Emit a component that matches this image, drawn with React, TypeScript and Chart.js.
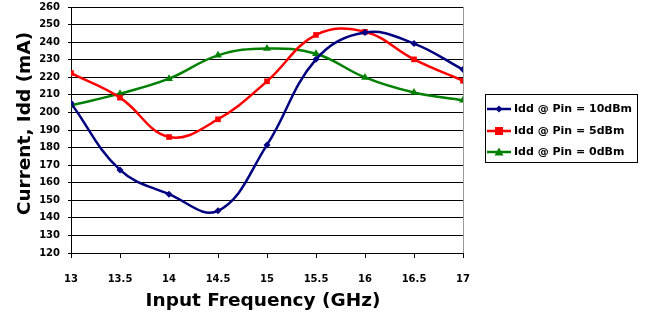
import React, { useEffect, useRef } from "react";
import { Chart, registerables } from "chart.js";

Chart.register(...registerables);

const frequencies = [13, 13.5, 14, 14.5, 15, 15.5, 16, 16.5, 17];
const idd10dBm = [205.3, 167.3, 153.5, 144, 181.5, 230.2, 245.5, 239.2, 224.4];
const idd5dBm = [222.4, 208.4, 186, 196.1, 217.7, 244.1, 245.9, 230.2, 218];
const idd0dBm = [204, 210.7, 219.2, 232.5, 236.4, 233.4, 219.9, 211.3, 206.9];
const seriesLabels = ["Idd @ Pin = 10dBm", "Idd @ Pin = 5dBm", "Idd @ Pin = 0dBm"];
const seriesColors = ["#000080", "#FF0000", "#008000"];
const seriesMarkers = ["rectRot", "rect", "triangle"];
const markerSizes = [3.5, 4, 4.5];
const xTitle = "Input Frequency (GHz)";
const yTitle = "Current, Idd (mA)";

const FONT = "'DejaVu Sans', Verdana, sans-serif";

const frame = {
  id: "frame",
  afterDatasetsDraw(chart: any) {
    const { ctx, chartArea } = chart;
    ctx.save();
    ctx.strokeStyle = "#9a9a9a";
    ctx.lineWidth = 1;
    ctx.beginPath();
    const x = Math.round(chartArea.right) + 0.5;
    ctx.moveTo(x, chartArea.top);
    ctx.lineTo(x, chartArea.bottom);
    ctx.stroke();
    ctx.restore();
  },
  afterDraw(chart: any) {
    const { ctx, chartArea } = chart;
    ctx.save();
    ctx.fillStyle = "#000";
    ctx.font = `bold 18.5px ${FONT}`;
    ctx.textAlign = "center";
    ctx.textBaseline = "alphabetic";
    ctx.fillText(xTitle, (chartArea.left + chartArea.right) / 2 - 4, 306);
    ctx.save();
    ctx.translate(30, 123.5);
    ctx.rotate(-Math.PI / 2);
    ctx.fillText(yTitle, 0, 0);
    ctx.restore();

    const bx = 485.5, by = 94.5, bw = 152, bh = 68;
    ctx.fillStyle = "#fff";
    ctx.fillRect(bx, by, bw, bh);
    ctx.strokeStyle = "#000";
    ctx.lineWidth = 1;
    ctx.strokeRect(bx, by, bw, bh);
    const rows = [109, 131, 152];
    chart.data.datasets.forEach((ds: any, i: number) => {
      const y = rows[i];
      ctx.strokeStyle = ds.borderColor;
      ctx.lineWidth = 2.5;
      ctx.beginPath();
      ctx.moveTo(487, y);
      ctx.lineTo(511, y);
      ctx.stroke();
      ctx.fillStyle = ds.backgroundColor;
      const cx = 499;
      const r = ds.pointRadius;
      ctx.beginPath();
      if (ds.pointStyle === "rectRot") {
        ctx.moveTo(cx, y - r); ctx.lineTo(cx + r, y); ctx.lineTo(cx, y + r); ctx.lineTo(cx - r, y); ctx.closePath();
      } else if (ds.pointStyle === "rect") {
        ctx.rect(cx - r, y - r, 2 * r, 2 * r);
      } else {
        ctx.moveTo(cx, y - r); ctx.lineTo(cx + r, y + r * 0.8); ctx.lineTo(cx - r, y + r * 0.8); ctx.closePath();
      }
      ctx.fill();
      ctx.fillStyle = "#000";
      ctx.font = `bold 11px ${FONT}`;
      ctx.textBaseline = "middle";
      ctx.textAlign = "left";
      ctx.fillText(ds.label, 514, y + 0.5);
    });
    ctx.restore();
  },
};

export default function App() {
  const ref = useRef<HTMLCanvasElement | null>(null);
  useEffect(() => {
    if (!ref.current) return;
    const sets = [idd10dBm, idd5dBm, idd0dBm];
    const chart = new Chart(ref.current, {
      type: "line",
      data: {
        datasets: sets.map((vals, i) => ({
          label: seriesLabels[i],
          data: frequencies.map((f, j) => ({ x: f, y: vals[j] })),
          borderColor: seriesColors[i],
          backgroundColor: seriesColors[i],
          pointStyle: seriesMarkers[i] as any,
          pointRadius: markerSizes[i],
          pointBorderWidth: 0,
          borderWidth: 2.5,
          tension: 0.4,
          fill: false,
        })),
      },
      options: {
        animation: false,
        responsive: false,
        maintainAspectRatio: false,
        layout: { padding: { left: 0, top: 7, right: 186, bottom: 0 } },
        plugins: { legend: { display: false }, tooltip: { enabled: false } },
        scales: {
          x: {
            type: "linear",
            min: 13,
            max: 17,
            afterBuildTicks: (scale: any) => {
              scale.ticks = frequencies.map((v) => ({ value: v }));
            },
            afterFit: (scale: any) => {
              scale.height = 314 - 253;
              scale.paddingLeft = 0;
              scale.paddingRight = 0;
            },
            ticks: {
              color: "#000",
              font: { family: FONT, size: 10, weight: "bold" },
              padding: 15,
              maxRotation: 0,
              autoSkip: false,
              callback: (v: any) => String(v),
            },
            grid: { drawOnChartArea: false, drawTicks: true, tickLength: 5, color: "#000", lineWidth: 1 },
            border: { color: "#000", width: 1 },
          },
          y: {
            type: "linear",
            min: 120,
            max: 260,
            afterFit: (scale: any) => {
              scale.width = 71;
              scale.paddingTop = 0;
              scale.paddingBottom = 0;
            },
            ticks: {
              stepSize: 10,
              color: "#000",
              font: { family: FONT, size: 10, weight: "bold" },
              padding: 8,
            },
            grid: { drawOnChartArea: true, drawTicks: true, tickLength: 3, color: "#000", lineWidth: 1 },
            border: { color: "#000", width: 1 },
          },
        },
      },
      plugins: [frame],
    });
    return () => chart.destroy();
  }, []);
  return (
    <div style={{ position: "fixed", left: 0, top: 0, width: 649, height: 314, background: "#fff" }}>
      <canvas ref={ref} width={649} height={314} style={{ width: 649, height: 314 }} />
    </div>
  );
}
